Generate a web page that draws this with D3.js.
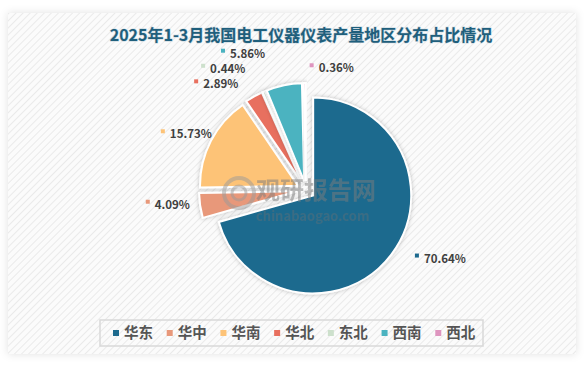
<!DOCTYPE html>
<html>
<head>
<meta charset="utf-8">
<script src="https://cdn.jsdelivr.net/npm/d3@7"></script>
<style>
body{margin:0;background:#fff;}
svg{display:block;font-family:"Noto Sans CJK SC","Noto Sans",sans-serif;}
</style>
</head>
<body>
<script>
var w = 587, h = 365;

// data
var regions = ["华东","华中","华南","华北","东北","西南","西北"];
var shares  = [70.64, 4.09, 15.73, 2.89, 0.44, 5.86, 0.36];
var colors  = ["#1d6a8e","#e8987a","#fdc377","#e8705f","#cde0cc","#4bb3c0","#de95bf"];

// where each label sits (angle in degrees from 12 o'clock, distance from centre)
var labelAngle = [118, 264, 294, 319, 325, 334.5, 11];
var labelDist  = [146, 141, 137, 140, 148, 151, 124];

var cx = 306, cy = 190, r = 98, explode = 9;

var svg = d3.select("body").append("svg")
	.attr("width", w)
	.attr("height", h);

var defs = svg.append("defs");
var pat = defs.append("pattern")
	.attr("id","hatch")
	.attr("width",5).attr("height",5)
	.attr("patternUnits","userSpaceOnUse")
	.attr("patternTransform","rotate(45)");
pat.append("rect").attr("width",5).attr("height",5).attr("fill","#fbfbfb");
pat.append("line").attr("x1",0).attr("y1",0).attr("x2",0).attr("y2",5)
	.attr("stroke","#e6e6e6").attr("stroke-width",1.6);

var sh = defs.append("filter").attr("id","shadow")
	.attr("x","-20%").attr("y","-20%").attr("width","140%").attr("height","140%");
sh.append("feDropShadow").attr("dx",0).attr("dy",0).attr("stdDeviation",2)
	.attr("flood-color","#000").attr("flood-opacity",0.25);

var frame = defs.append("filter").attr("id","frame")
	.attr("x","-5%").attr("y","-5%").attr("width","110%").attr("height","110%");
frame.append("feDropShadow").attr("dx",0).attr("dy",0).attr("stdDeviation",4)
	.attr("flood-color","#000").attr("flood-opacity",0.12);

// panel
svg.append("rect").attr("x",0).attr("y",0).attr("width",w).attr("height",h).attr("fill","#fff");
svg.append("rect").attr("x",8).attr("y",13).attr("width",568).attr("height",341)
	.attr("fill","url(#hatch)").attr("filter","url(#frame)");

// title
svg.append("text")
	.attr("x", 301).attr("y", 41)
	.attr("text-anchor","middle")
	.style("font-size","16px")
	.style("font-weight","bold")
	.style("fill","#1f5f7c")
	.style("paint-order","stroke")
	.style("stroke","#c8d6de").style("stroke-width","1px")
	.text("2025年1-3月我国电工仪器仪表产量地区分布占比情况");

var pie = d3.pie().sort(null).value(function(d){ return d; });
var arcs = pie(shares);
var arc = d3.arc().innerRadius(0).outerRadius(r);

var g = svg.append("g").attr("transform","translate("+cx+","+cy+")");

g.selectAll("path")
	.data(arcs)
	.enter()
	.append("path")
	.attr("d", arc)
	.attr("transform", function(d){
		var p = d3.pointRadial((d.startAngle + d.endAngle)/2, explode);
		return "translate("+p[0]+","+p[1]+")";
	})
	.style("fill", function(d,i){ return colors[i]; })
	.style("stroke","#fff")
	.style("stroke-width",2)
	.attr("filter","url(#shadow)");

// watermark
var wm = svg.append("g").style("opacity",0.5);
wm.append("circle").attr("cx",239).attr("cy",193).attr("r",15)
	.attr("fill","none").attr("stroke","#9a9a9a").attr("stroke-width",4);
wm.append("circle").attr("cx",239).attr("cy",193).attr("r",7)
	.attr("fill","none").attr("stroke","#9a9a9a").attr("stroke-width",3);
wm.append("text").attr("x",256).attr("y",199)
	.style("font-size","24px").style("font-weight","bold").style("fill","#7d7d7d")
	.text("观研报告网");
wm.append("text").attr("x",256).attr("y",221)
	.style("font-size","13px").style("font-weight","bold").style("fill","#5a6f7a")
	.text("chinabaogao.com");

// labels
var lab = g.selectAll(".lab")
	.data(arcs)
	.enter()
	.append("g")
	.attr("class","lab")
	.attr("transform", function(d,i){
		var p = d3.pointRadial(labelAngle[i]*Math.PI/180, labelDist[i]);
		return "translate("+p[0]+","+p[1]+")";
	});
lab.append("rect")
	.attr("x",-20).attr("y",-5).attr("width",4).attr("height",4)
	.style("fill", function(d,i){ return colors[i]; });
lab.append("text")
	.attr("x",-11).attr("y",4)
	.style("font-size","11.5px").style("font-weight","bold").style("fill","#404040")
	.text(function(d,i){ return shares[i].toFixed(2) + "%"; });

// legend
var legend = svg.append("g");
var lx = d3.scaleBand().domain(regions).range([108, 484]);
legend.append("rect").attr("x",100).attr("y",320).attr("width",383).attr("height",26)
	.attr("fill","none").attr("stroke","#d9d9d9").attr("stroke-width",1.5);
var item = legend.selectAll(".item")
	.data(regions)
	.enter()
	.append("g")
	.attr("transform", function(d){ return "translate("+lx(d)+",333)"; });
item.append("rect").attr("x",5).attr("y",-3).attr("width",6).attr("height",6)
	.style("fill", function(d,i){ return colors[i]; });
item.append("text").attr("x",16).attr("y",5)
	.style("font-size","14.5px").style("font-weight","bold").style("fill","#555")
	.text(function(d){ return d; });
</script>
</body>
</html>
